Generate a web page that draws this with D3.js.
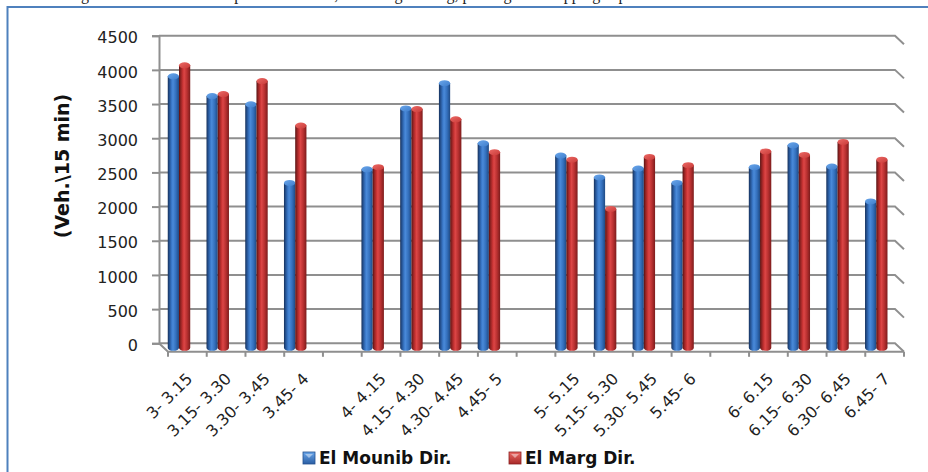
<!DOCTYPE html>
<html>
<head>
<meta charset="utf-8">
<script src="https://cdn.jsdelivr.net/npm/d3@7"></script>
<style>
  html, body { margin: 0; padding: 0; background: #fff; }
  svg { display: block; }
</style>
</head>
<body>
<svg id="chart" width="928" height="472"></svg>
<script>
// 15-minute intervals; empty strings are the spacer slots between hours
const categories = [
  "3- 3.15", "3.15- 3.30", "3.30- 3.45", "3.45- 4", "",
  "4- 4.15", "4.15- 4.30", "4.30- 4.45", "4.45- 5", "",
  "5- 5.15", "5.15- 5.30", "5.30- 5.45", "5.45- 6", "",
  "6- 6.15", "6.15- 6.30", "6.30- 6.45", "6.45- 7"
];
const elMounib = [
  3950, 3660, 3540, 2390, null,
  2590, 3480, 3850, 2970, null,
  2790, 2470, 2600, 2390, null,
  2620, 2940, 2630, 2120
];
const elMarg = [
  4110, 3690, 3880, 3230, null,
  2620, 3470, 3320, 2840, null,
  2730, 2010, 2770, 2650, null,
  2850, 2800, 2990, 2730
];
const seriesNames = ["El Mounib Dir.", "El Marg Dir."];
const yTicks = [0, 500, 1000, 1500, 2000, 2500, 3000, 3500, 4000, 4500];

const svg = d3.select("#chart");
const defs = svg.append("defs");

// frame of the embedding figure
svg.append("path")
  .attr("d", "M7.5,472 L7.5,7 L928,7")
  .attr("fill", "none").attr("stroke", "#4f81bd").attr("stroke-width", 2);

// line of running text above the figure, cut by the page edge
svg.append("text")
  .attr("x", 40).attr("y", 0)
  .attr("font-family", "Liberation Serif, serif").attr("font-size", 16)
  .attr("fill", "#222")
  .text("of the generation of vehicle trips at the station, including waiting, parking and dropping trips.");

// 3D box geometry: back wall and front edge offset by depth
const depthX = 9, depthY = 8.5;
const backLeft = 159, backRight = 895;
const y = d3.scaleLinear().domain([0, 4500]).range([343.3, 35.7]);
const x = d3.scaleBand().domain(d3.range(categories.length)).range([backLeft + depthX, backRight + depthX]).padding(0);
const bw = x.bandwidth();
const x1 = d3.scaleBand().domain([0, 1]).range([bw * 0.11, bw * 0.69]).padding(0);
const floorFront = y(0) + depthY;
const barBase = y(0) + 4.5;

const gridColor = "#8f8f8f";

// gridlines along back wall and right side wall
svg.append("g").selectAll("path").data(yTicks).join("path")
  .attr("d", d => `M${backLeft},${y(d)} L${backRight},${y(d)} L${backRight + depthX},${y(d) + depthY}`)
  .attr("fill", "none").attr("stroke", gridColor).attr("stroke-width", 2);

// floor edges
svg.append("path")
  .attr("d", `M${backLeft},${y(0)} L${backLeft + depthX},${floorFront} L${backRight + depthX},${floorFront}`)
  .attr("fill", "none").attr("stroke", gridColor).attr("stroke-width", 2);

// value axis
const yAxis = svg.append("g")
  .attr("transform", `translate(${backLeft},0)`)
  .call(d3.axisLeft(y).tickValues(yTicks).tickSize(7).tickPadding(14).tickFormat(d3.format("d")));
yAxis.select(".domain").attr("stroke", gridColor).attr("stroke-width", 2);
yAxis.selectAll(".tick line").attr("stroke", gridColor).attr("stroke-width", 2);
yAxis.selectAll(".tick text")
  .attr("font-family", "DejaVu Sans, sans-serif").attr("font-size", 16).attr("fill", "#222")
  .attr("dy", "0.45em");

// category boundary ticks on the front floor edge
svg.append("g").selectAll("line").data(d3.range(categories.length + 1)).join("line")
  .attr("x1", i => x.range()[0] + i * bw).attr("x2", i => x.range()[0] + i * bw)
  .attr("y1", floorFront).attr("y2", floorFront + 5)
  .attr("stroke", gridColor).attr("stroke-width", 2);

// rotated category labels
const xAxis = svg.append("g")
  .attr("transform", `translate(0,${floorFront})`)
  .call(d3.axisBottom(x).tickSize(0).tickFormat(i => categories[i]));
xAxis.select(".domain").remove();
xAxis.selectAll(".tick text")
  .attr("font-family", "DejaVu Sans, sans-serif").attr("font-size", 16).attr("fill", "#222")
  .attr("text-anchor", "end")
  .attr("transform", "translate(6,28) rotate(-45)")
  .attr("x", 0).attr("y", 0).attr("dy", 0);

// cylinder shading
const palettes = [
  { body: ["#16305a", "#24508e", "#3a78c8", "#4a8ad9", "#3470bd", "#1f4a84"], cap: ["#6aa6ea", "#3f7ecd"], key: ["#6aa6ea", "#2a5ea4"] },
  { body: ["#551111", "#8e2222", "#c93434", "#dc4646", "#b83030", "#7c1c1c"], cap: ["#ec6a66", "#c93a38"], key: ["#ec6a66", "#a82828"] }
];
const stops = [0, 0.14, 0.34, 0.46, 0.72, 1];
palettes.forEach((p, k) => {
  const g = defs.append("linearGradient").attr("id", "body" + k).attr("x1", 0).attr("x2", 1).attr("y1", 0).attr("y2", 0);
  p.body.forEach((c, j) => g.append("stop").attr("offset", stops[j]).attr("stop-color", c));
  const c = defs.append("linearGradient").attr("id", "cap" + k).attr("x1", 0).attr("x2", 1).attr("y1", 0).attr("y2", 1);
  c.append("stop").attr("offset", 0).attr("stop-color", p.cap[0]);
  c.append("stop").attr("offset", 1).attr("stop-color", p.cap[1]);
  const kg = defs.append("linearGradient").attr("id", "key" + k).attr("x1", 0).attr("x2", 0).attr("y1", 0).attr("y2", 1);
  kg.append("stop").attr("offset", 0).attr("stop-color", p.key[0]);
  kg.append("stop").attr("offset", 1).attr("stop-color", p.key[1]);
});

const capRy = 3;
const rows = categories.map((c, i) => ({ i, vals: [elMounib[i], elMarg[i]] }));
const bars = svg.append("g");
[0, 1].forEach(k => {
  const data = rows.filter(r => r.vals[k] != null);
  const w = x1.bandwidth();
  const left = r => x(r.i) - depthX / 2 + x1(k);
  const top = r => y(r.vals[k]) + capRy;
  bars.append("g").selectAll("path").data(data).join("path")
    .attr("d", r => {
      const x0 = left(r);
      return `M${x0},${top(r)} L${x0},${barBase} A${w / 2},${capRy} 0 0 0 ${x0 + w},${barBase} L${x0 + w},${top(r)} Z`;
    })
    .attr("fill", `url(#body${k})`);
  bars.append("g").selectAll("ellipse").data(data).join("ellipse")
    .attr("cx", r => left(r) + w / 2).attr("cy", top)
    .attr("rx", w / 2).attr("ry", capRy)
    .attr("fill", `url(#cap${k})`);
});

// y axis title
svg.append("text")
  .attr("transform", "translate(62,166) rotate(-90)")
  .attr("text-anchor", "middle").attr("dominant-baseline", "central")
  .attr("font-family", "DejaVu Sans, sans-serif").attr("font-weight", "bold").attr("font-size", 19)
  .attr("fill", "#111")
  .text("(Veh.\\15 min)");

// legend
const legendX = [303, 509];
const legend = svg.append("g").selectAll("g").data(seriesNames).join("g")
  .attr("transform", (d, k) => `translate(${legendX[k]},452)`);
legend.append("rect").attr("width", 12).attr("height", 12)
  .attr("fill", (d, k) => `url(#key${k})`)
  .attr("stroke", (d, k) => k ? "#8a2020" : "#24508e").attr("stroke-width", 0.8);
legend.append("path").attr("d", "M2,2 L10,2 L6,6 Z").attr("fill", "rgba(255,255,255,0.45)");
legend.append("text")
  .attr("x", 16).attr("y", 12)
  .attr("font-family", "DejaVu Sans, sans-serif").attr("font-weight", "bold").attr("font-size", 17)
  .attr("fill", "#111")
  .text(d => d);
</script>
</body>
</html>
